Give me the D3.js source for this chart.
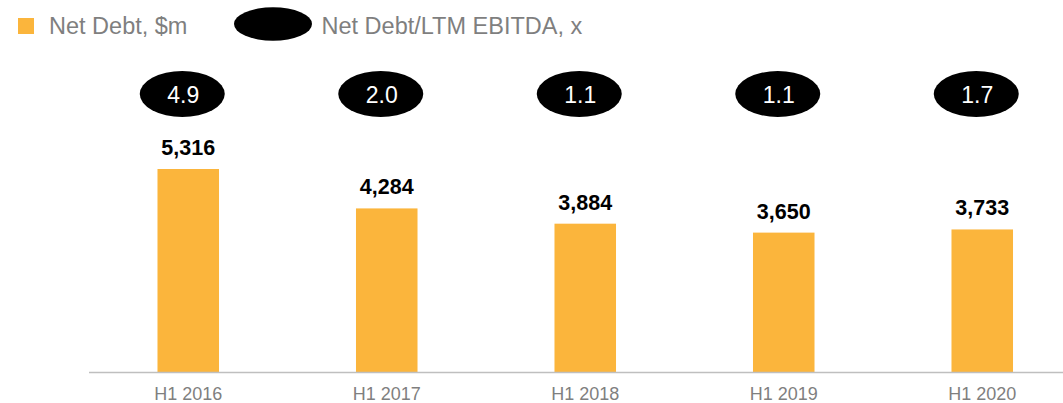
<!DOCTYPE html>
<html>
<head>
<meta charset="utf-8">
<script src="https://cdn.jsdelivr.net/npm/d3@7"></script>
<style>
    body { margin: 0; background: #fff; }
    svg { display: block; font-family: "Liberation Sans", Arial, sans-serif; }
</style>
</head>
<body>
<svg width="1063" height="403"></svg>
<script>
"use strict";

var periods = ["H1 2016", "H1 2017", "H1 2018", "H1 2019", "H1 2020"];
var netDebt = [5316, 4284, 3884, 3650, 3733];
var leverage = ["4.9", "2.0", "1.1", "1.1", "1.7"];
var legendLabels = ["Net Debt, $m", "Net Debt/LTM EBITDA, x"];

var barColor = "#fbb53c";
var greyText = "#7f7f7f";

var svg = d3.select("svg");
var baseline = 372; // px

var x = d3.scaleBand()
    .domain(periods)
    .range([89, 1081.5])
    .paddingInner(0.69)
    .paddingOuter(0.345);

var y = d3.scaleLinear()
    .domain([0, 5316])
    .range([baseline, 169]);

var rows = periods.map(function (p, i) {
    return {period: p, debt: netDebt[i], ratio: leverage[i]};
});

// legend
svg.append("rect")
    .attr("x", 18).attr("y", 18)
    .attr("width", 16).attr("height", 16)
    .attr("fill", barColor);
svg.append("text")
    .attr("x", 49).attr("y", 34)
    .attr("font-size", 23.5)
    .attr("fill", greyText)
    .text(legendLabels[0]);
svg.append("ellipse")
    .attr("cx", 273).attr("cy", 24)
    .attr("rx", 39).attr("ry", 16.7)
    .attr("fill", "#000");
svg.append("text")
    .attr("x", 321.5).attr("y", 34)
    .attr("font-size", 23.5)
    .attr("fill", greyText)
    .text(legendLabels[1]);

// bars
svg.selectAll("rect.bar")
    .data(rows)
    .join("rect")
    .attr("class", "bar")
    .attr("x", function (d) { return x(d.period); })
    .attr("width", x.bandwidth())
    .attr("y", function (d) { return y(d.debt); })
    .attr("height", function (d) { return baseline - y(d.debt); })
    .attr("fill", barColor);

svg.selectAll("text.value")
    .data(rows)
    .join("text")
    .attr("class", "value")
    .attr("x", function (d) { return x(d.period) + x.bandwidth() / 2; })
    .attr("y", function (d) { return y(d.debt) - 14; })
    .attr("text-anchor", "middle")
    .attr("font-size", 21.5)
    .attr("font-weight", "bold")
    .attr("fill", "#000")
    .text(function (d) { return d3.format(",")(d.debt); });

// leverage bubbles
var bubbleOffset = -6; // px, bubbles sit a little left of the bar centre
svg.selectAll("ellipse.ratio")
    .data(rows)
    .join("ellipse")
    .attr("class", "ratio")
    .attr("cx", function (d) {
        return x(d.period) + x.bandwidth() / 2 + bubbleOffset;
    })
    .attr("cy", 94)
    .attr("rx", 42.5).attr("ry", 23)
    .attr("fill", "#000");

svg.selectAll("text.ratio")
    .data(rows)
    .join("text")
    .attr("class", "ratio")
    .attr("x", function (d) {
        return x(d.period) + x.bandwidth() / 2 + bubbleOffset + 1;
    })
    .attr("y", 102.5)
    .attr("text-anchor", "middle")
    .attr("font-size", 23)
    .attr("fill", "#fff")
    .text(function (d) { return d.ratio; });

// axis
var axis = svg.append("g")
    .attr("transform", "translate(0," + baseline + ")")
    .call(d3.axisBottom(x).tickSize(0).tickPadding(15));
axis.select(".domain").remove();
axis.append("line")
    .attr("x1", 89).attr("x2", 1063)
    .attr("y1", 0.5).attr("y2", 0.5)
    .attr("stroke", "#bfbfbf")
    .attr("stroke-width", 1.5);
axis.selectAll(".tick text")
    .attr("font-size", 18)
    .attr("font-family", "Liberation Sans, Arial, sans-serif")
    .attr("fill", greyText);
</script>
</body>
</html>
